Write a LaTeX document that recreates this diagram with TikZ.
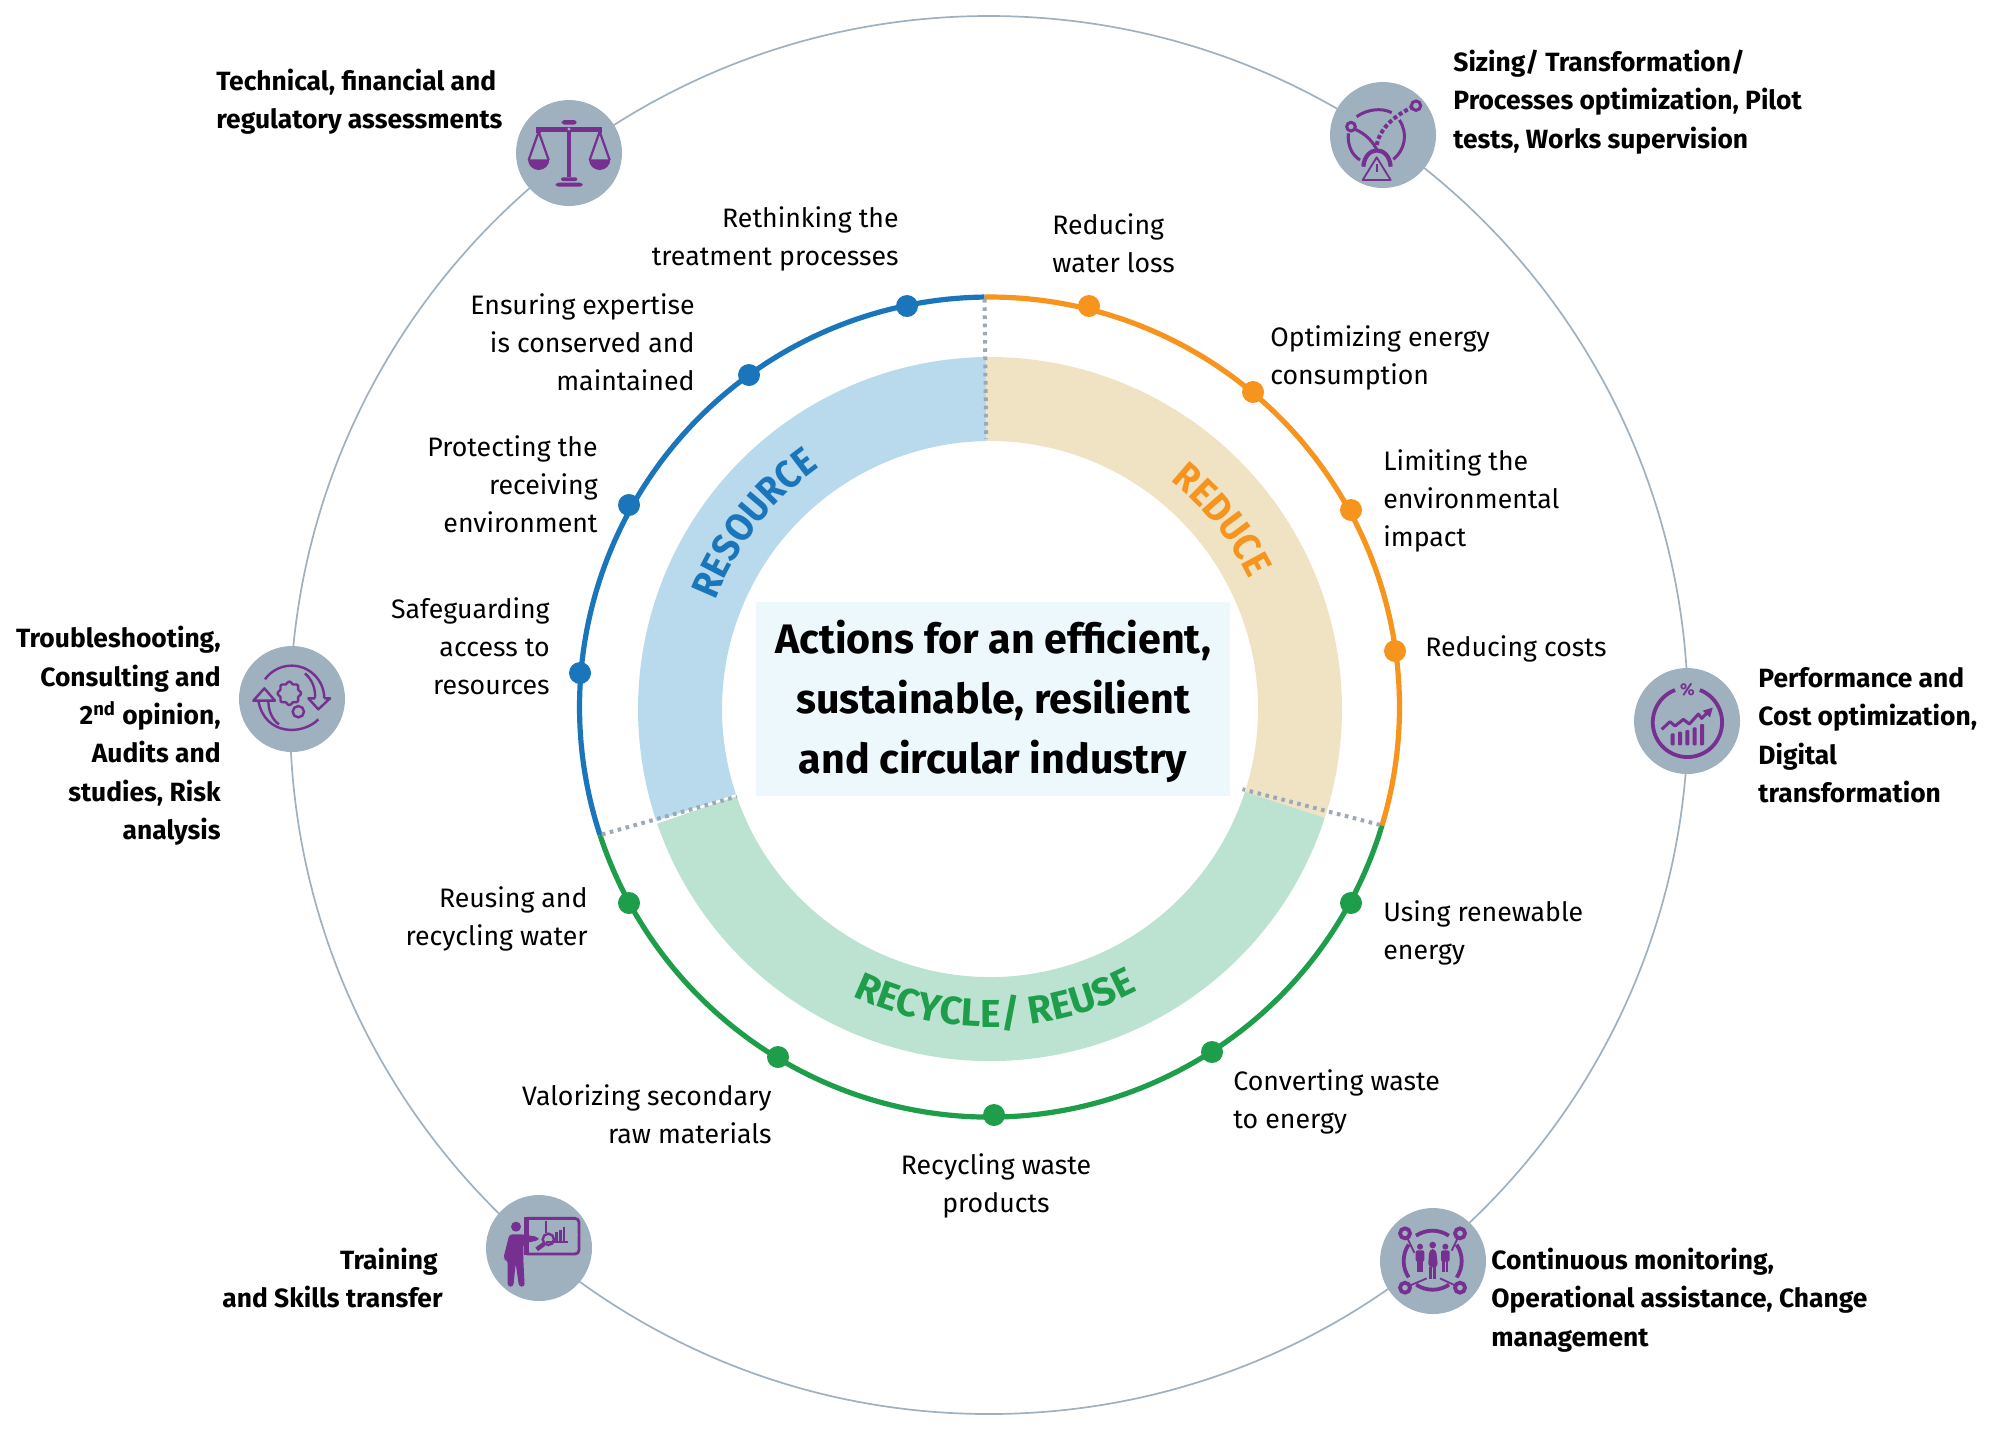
\documentclass[tikz,border=0pt]{standalone}
\usepackage{fontspec}
\setmainfont{Fira Sans}
\newfontfamily\bandfont[FakeStretch=0.92]{Fira Sans}
\usetikzlibrary{decorations.text,arrows.meta,calc}
\definecolor{ringline}{HTML}{9FB1BF}
\definecolor{disc}{HTML}{9FB0BE}
\definecolor{purp}{HTML}{76308F}
\definecolor{cblue}{HTML}{1B75BB}
\definecolor{corange}{HTML}{F7941E}
\definecolor{cgreen}{HTML}{1E9E4A}
\definecolor{bandblue}{HTML}{B8DAEC}
\definecolor{bandbeige}{HTML}{EFE3C4}
\definecolor{bandgreen}{HTML}{BCE2D2}
\definecolor{boxblue}{HTML}{EDF8FC}
\definecolor{dotgrey}{HTML}{9AA9B5}
\tikzset{
  x=0.5pt,y=-0.5pt,
  lab/.style={inner sep=0pt,yshift=0.5pt,font=\fontsize{13.35}{19.15}\selectfont,text depth=0pt},
  blab/.style={inner sep=0pt,text depth=0pt,font=\fontsize{13.2}{19.15}\selectfont\bfseries},
  disc node/.style={circle,fill=disc,minimum size=53pt,inner sep=0pt},
  blue dot/.style={circle,fill=cblue,minimum size=11pt,inner sep=0pt},
  orange dot/.style={circle,fill=corange,minimum size=11pt,inner sep=0pt},
  green dot/.style={circle,fill=cgreen,minimum size=11pt,inner sep=0pt},
  divider/.style={dotgrey,line width=2pt,dash pattern=on 1.8pt off 2.3pt},
  icon/.style={shift={#1},scale=1/3},
  pl/.style={purp,line width=1.5pt},
  pt/.style={purp,line width=0.9pt},
}
\newcommand{\sector}[3]{\fill[#3] (bc) ++(#1:352) arc[start angle=#1,end angle=#2,radius=352] -- ($(bc)+(#2:268)$) arc[start angle=#2,end angle=#1,radius=268] -- cycle;}
\begin{document}
\begin{tikzpicture}
\useasboundingbox (0,0) rectangle (2000,1432);
\coordinate (c) at (989.5,707);
\coordinate (bc) at (990,709);
\coordinate (o) at (989,715);
% outer ring
\draw[ringline,line width=0.85pt] (o) circle[radius=699];
% band
\sector{-90.7}{-198.5}{bandblue}
\sector{-90.7}{18}{bandbeige}
\sector{18}{161}{bandgreen}
% central box
\node[fill=boxblue,minimum width=237pt,minimum height=97pt,inner sep=0pt] (box) at (993,699) {};
\node[inner sep=0pt,align=center,font=\fontsize{20.6}{30}\selectfont\bfseries] (title) at (993,701) {Actions for an efficient,\\sustainable, resilient\\and circular industry};
% main ring
\draw[cblue,line width=2.6pt] (c) ++(-90.7:410) arc[start angle=-90.7,end angle=-198.2,radius=410];
\draw[corange,line width=2.6pt] (c) ++(-90.7:410) arc[start angle=-90.7,end angle=16.8,radius=410];
\draw[cgreen,line width=2.6pt] (c) ++(16.8:410) arc[start angle=16.8,end angle=161.8,radius=410];
% dividers
\draw[divider] ($(c)+(-90.7:408)$) -- ($(c)+(-90.7:268)$);
\draw[divider] ($(c)+(16.8:408)$) -- ($(c)+(18:266)$);
\draw[divider] ($(c)+(161.8:408)$) -- ($(c)+(160.5:268)$);
% curved words
\begin{scope}[y=0.5pt]
\path[decorate,decoration={text along path,text align=center,text color=cblue,text={|\bandfont\fontsize{19.5}{19.5}\selectfont\bfseries|RESOURCE}}]
  (990,-708) ++(190:295) arc[start angle=190,end angle=94,radius=295];
\path[decorate,decoration={text along path,text align=center,text color=corange,text={|\bandfont\fontsize{19.5}{19.5}\selectfont\bfseries|REDUCE}}]
  (990,-708) ++(85:290) arc[start angle=85,end angle=-7,radius=290];
\path[decorate,decoration={text along path,text align=center,text color=cgreen,text={|\fontsize{19.5}{19.5}\selectfont\bfseries|RECYCLE/ REUSE}}]
  (990,-708) ++(223:319) arc[start angle=223,end angle=319,radius=319];
\end{scope}
% dots
\foreach \n/\p in {b1/{907,306},b2/{749,375},b3/{629,505},b4/{580,673}}{\node[blue dot] (\n) at (\p) {};}
\foreach \n/\p in {o1/{1089,306},o2/{1253,392},o3/{1351,510},o4/{1395,651}}{\node[orange dot] (\n) at (\p) {};}
\foreach \n/\p in {g1/{1351,903},g2/{1212,1052},g3/{994,1115},g4/{778,1057},g5/{629,903}}{\node[green dot] (\n) at (\p) {};}
% regular labels
\node[lab,anchor=east,align=right] (t1) at (899,237) {Rethinking the\\treatment processes};
\node[lab,anchor=east,align=right] (t2) at (695,343) {Ensuring expertise\\is conserved and\\maintained};
\node[lab,anchor=east,align=right] (t3) at (598,485) {Protecting the\\receiving\\environment};
\node[lab,anchor=east,align=right] (t4) at (550,647) {Safeguarding\\access to\\resources};
\node[lab,anchor=west,align=left] (t5) at (1052,244) {Reducing\\water loss};
\node[lab,anchor=west,align=left] (t6) at (1270,356) {Optimizing energy\\consumption};
\node[lab,anchor=west,align=left] (t7) at (1383,499) {Limiting the\\environmental\\impact};
\node[lab,anchor=west,align=left] (t8) at (1425,647) {Reducing costs};
\node[lab,anchor=west,align=left] (t9) at (1383,931) {Using renewable\\energy};
\node[lab,anchor=west,align=left] (t10) at (1233,1100) {Converting waste\\to energy};
\node[lab,align=center] (t11) at (996,1184) {Recycling waste\\products};
\node[lab,anchor=east,align=right] (t12) at (772,1115) {Valorizing secondary\\raw materials};
\node[lab,anchor=east,align=right] (t13) at (588,917) {Reusing and\\recycling water};
% bold labels
\node[blab,anchor=west,align=left] (s1) at (216,99) {Technical, financial and\\regulatory assessments};
\node[blab,anchor=west,align=left] (s2) at (1453,99) {Sizing/ Transformation/\\Processes optimization, Pilot\\tests, Works supervision};
\node[blab,anchor=west,align=left] (s3) at (1758,735) {Performance and\\Cost optimization,\\Digital\\transformation};
\node[blab,anchor=west,align=left] (s4) at (1491,1297) {Continuous monitoring,\\Operational assistance, Change\\management};
\node[blab,anchor=east,align=right] (s5) at (443,1278) {Training\hspace*{2.5pt}\\and Skills transfer};
\node[blab,anchor=east,align=right] (s6) at (221,733) {Troubleshooting,\\Consulting and\\2\textsuperscript{nd} opinion,\\Audits and\\studies, Risk\\analysis};
% discs
\node[disc node] (d1) at (569,153) {};
\node[disc node] (d2) at (1383,135) {};
\node[disc node] (d3) at (1687,721) {};
\node[disc node] (d4) at (1433,1261) {};
\node[disc node] (d5) at (539,1248) {};
\node[disc node] (d6) at (292,699) {};
% icon: scales
\begin{scope}[icon={(500,80)}]
\fill[purp,rounded corners=1.5pt] (185,120) rectangle (230,134);
\draw[purp,line width=2.2pt] (110,148) -- (305,148);
\fill[purp] (202,145) rectangle (214,290);
\fill[disc] (207,147) circle[radius=5];
\fill[purp,rounded corners=1pt] (183,292) rectangle (232,303);
\fill[purp,rounded corners=1.5pt] (167,308) rectangle (248,320);
\fill[purp] (108,140) rectangle (122,160);
\fill[purp] (293,140) rectangle (307,160);
\draw[purp,line width=1.1pt,line join=round] (86,240) -- (116,155) -- (146,240);
\draw[purp,line width=1.1pt,line join=round] (269,240) -- (299,155) -- (329,240);
\fill[purp] (84,238) -- (148,238) arc[start angle=0,end angle=180,radius=32] -- cycle;
\fill[purp] (267,238) -- (331,238) arc[start angle=0,end angle=180,radius=32] -- cycle;
\end{scope}
% icon: route
\begin{scope}[icon={(1310,70)}]
\draw[pl] (140,140) .. controls (170,118) and (215,112) .. (245,128);
\draw[pl] (268,150) .. controls (295,190) and (285,240) .. (250,268);
\draw[pl] (115,190) .. controls (112,225) and (125,255) .. (150,270);
\draw[pl] (135,178) .. controls (165,190) and (190,215) .. (202,243);
\draw[purp,dash pattern=on 2pt off 1.2pt,line width=2pt] (200,225) .. controls (210,175) and (250,140) .. (305,112);
\draw[pl] (123,170) circle[radius=13];
\draw[pl] (318,107) circle[radius=14];
\draw[purp,line width=2.1pt] (160,290) .. controls (165,225) and (237,225) .. (242,290);
\draw[pt,line join=round] (158,330) -- (242,330) -- (200,262) -- cycle;
\fill[purp] (197,283) rectangle (203,305);
\end{scope}
% icon: performance
\begin{scope}[icon={(1620,650)}]
\draw[purp,line width=1.9pt] (165,120) arc[start angle=-111,end angle=-429,radius=104];
\node[text=purp,inner sep=0pt,font=\fontsize{8.5}{8.5}\selectfont\bfseries] (pct) at (202,119) {\%};
\draw[pl,line join=round] (125,238) -- (150,215) -- (165,228) -- (190,208) -- (208,222) -- (235,192) -- (245,205) -- (268,182);
\fill[purp] (278,173) -- (248,182) -- (270,202) -- cycle;
\foreach \bx/\by in {158/250,180/245,202/240,224/232,246/222}{\fill[purp,rounded corners=0.5pt] (\bx-6,\by) rectangle (\bx+6,286);}
\end{scope}
% icon: team
\begin{scope}[icon={(1360,1190)}]
\draw[purp,line width=1.9pt] (168,137) arc[start angle=-124,end angle=-56,radius=88];
\draw[purp,line width=1.9pt] (290,164) arc[start angle=-34,end angle=34,radius=88];
\draw[purp,line width=1.9pt] (267,284) arc[start angle=56,end angle=124,radius=88];
\draw[purp,line width=1.9pt] (146,262) arc[start angle=146,end angle=214,radius=88];
\foreach \rx/\ry/\lx/\ly in {135/130/163/188,300/130/275/182,135/293/200/265,300/293/240/265}{
  \draw[pt] (\rx,\ry) -- (\lx,\ly);
  \draw[purp,line width=1.9pt,fill=disc] (\rx,\ry) circle[radius=15];}
\foreach \px in {180,256}{
  \fill[purp] (\px,170) circle[radius=9];
  \fill[purp,rounded corners=1pt] (\px-13,181) rectangle (\px+13,215);
  \fill[purp] (\px-9,213) rectangle (\px-1,246);
  \fill[purp] (\px+1,213) rectangle (\px+9,246);
}
\fill[purp] (218,165) circle[radius=10];
\fill[purp,rounded corners=2pt] (208,177) -- (228,177) -- (234,232) -- (204,232) -- cycle;
\fill[purp] (208,230) rectangle (217,268);
\fill[purp] (219,230) rectangle (228,268);
\end{scope}
% icon: training
\begin{scope}[icon={(470,1180)}]
\draw[purp,line width=1.4pt,rounded corners=2pt] (170,115) -- (327,115) -- (327,222) -- (170,222);
\fill[purp] (163,112) rectangle (177,225);
\fill[purp] (138,140) circle[radius=15];
\fill[purp,rounded corners=1.5pt] (118,163) -- (158,163) -- (205,171) -- (206,181) -- (160,190) -- (160,240) -- (164,320) -- (147,320) -- (137,250) -- (130,320) -- (113,320) -- (113,240) -- (108,240) -- (100,236) -- cycle;
\draw[purp,line width=1.1pt] (228,122) -- (228,160);
\draw[purp,line width=1.1pt] (228,186) -- (295,186);
\foreach \bx/\by in {260/155,271/150,282/142}{\fill[purp] (\bx-4,\by) rectangle (\bx+4,182);}
\draw[purp,line width=1.2pt] (235,178) circle[radius=17];
\draw[purp,line width=2.2pt] (222,192) -- (200,208);
\fill[disc] (320,165) circle[radius=3.5];
\end{scope}
% icon: cycle
\begin{scope}[icon={(225,630)}]
\draw[pt,line width=1.2pt] (120,148) arc[start angle=-144.5,end angle=0,radius=98];
\draw[pt,line width=1.2pt] (280,268) .. controls (235,315) and (120,320) .. (100,212);
\draw[pt,line width=1.2pt] (240,130) .. controls (262,150) and (272,175) .. (270,205);
\draw[pt,line width=1.2pt,line join=round] (270,205) -- (250,205) -- (280,238) -- (315,205) -- (298,205);
\draw[pt,line width=1.2pt,line join=round] (130,212) -- (85,212) -- (118,175) -- (150,212) -- (130,212) .. controls (130,240) and (140,268) .. (162,283);
\draw[pt,line width=1.2pt] plot[domain=0:360,samples=73,smooth] ({193+(32+3*cos(8*\x))*cos(\x)},{190+(32+3*cos(8*\x))*sin(\x)});
\draw[pt,line width=1.2pt] (220,245) circle[radius=17];
\end{scope}
\end{tikzpicture}
\end{document}
